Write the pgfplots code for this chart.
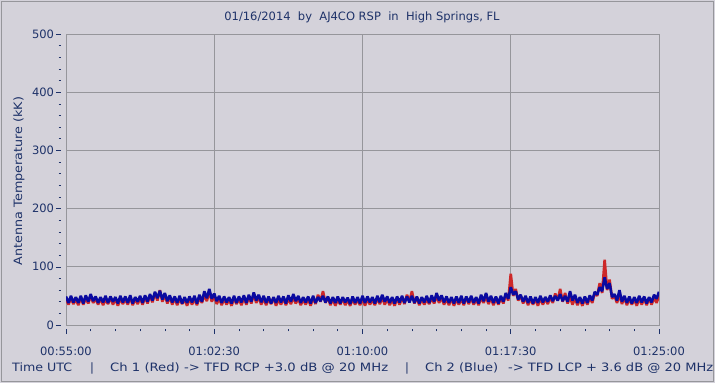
\documentclass[border=0pt]{standalone}
\usepackage{pgfplots}
\usepackage{pgfplotstable}
\usepackage{graphicx}
\pgfplotsset{compat=1.18}
\usepackage{fontspec}
\setmainfont{DejaVu Sans}
\definecolor{bgc}{RGB}{212,210,218}
\definecolor{txt}{RGB}{30,50,105}
\definecolor{grd}{RGB}{150,150,155}
\definecolor{redc}{RGB}{205,40,40}
\definecolor{bluec}{RGB}{10,10,160}
\pgfplotstableread{
x r b
0 45 49
1 35 38
2 46 50
3 36 39
4 44 48
5 34 38
6 47 50
7 35 37
8 46 51
9 37 40
10 50 53
11 38 41
12 45 49
13 35 38
14 46 48
15 34 39
16 44 50
17 36 38
18 47 49
19 35 40
20 45 48
21 33 37
22 46 50
23 36 39
24 44 49
25 35 38
26 47 51
27 34 37
28 45 48
29 36 40
30 46 50
31 35 38
32 48 51
33 37 40
34 50 53
35 39 42
36 55 57
37 42 46
38 60 59
39 40 44
40 52 55
41 37 41
42 48 51
43 35 39
44 46 49
45 34 38
46 45 50
47 36 37
48 44 48
49 33 38
50 46 49
51 35 39
52 45 50
53 34 37
54 47 52
55 38 40
56 52 58
57 41 46
58 58 62
59 40 45
60 50 54
61 36 41
62 46 50
63 34 38
64 45 49
65 35 39
66 44 48
67 33 37
68 46 50
69 36 38
70 45 49
71 34 39
72 47 51
73 35 38
74 48 52
75 37 40
76 53 56
77 38 42
78 49 52
79 35 39
80 46 50
81 34 38
82 45 49
83 36 37
84 47 48
85 33 38
86 44 50
87 35 39
88 46 49
89 34 37
90 45 51
91 36 40
92 47 53
93 37 41
94 46 50
95 34 38
96 44 48
97 35 39
98 45 49
99 33 37
100 47 50
101 36 38
102 52 48
103 40 41
104 58 50
105 38 39
106 48 49
107 34 37
108 45 48
109 33 38
110 44 49
111 35 37
112 46 48
113 34 39
114 43 47
115 33 36
116 45 49
117 35 38
118 44 48
119 34 37
120 46 50
121 33 38
122 45 49
123 35 39
124 44 48
125 34 37
126 46 50
127 36 39
128 47 52
129 35 40
130 45 49
131 34 38
132 44 48
133 33 37
134 46 49
135 35 39
136 47 50
137 36 38
138 52 49
139 40 39
140 58 50
141 37 38
142 47 49
143 34 37
144 45 48
145 35 39
146 44 50
147 36 38
148 46 51
149 37 40
150 50 55
151 38 42
152 47 51
153 35 39
154 45 49
155 34 38
156 46 48
157 33 37
158 44 49
159 35 38
160 45 50
161 34 37
162 47 49
163 36 39
164 46 50
165 35 38
166 44 48
167 34 37
168 47 52
169 38 41
170 49 55
171 36 40
172 46 50
173 34 38
174 45 49
175 35 37
176 46 50
177 37 40
178 52 55
179 42 45
180 88 65
181 50 52
182 62 58
183 42 44
184 50 52
185 37 40
186 47 50
187 34 38
188 45 49
189 35 37
190 44 48
191 33 38
192 46 50
193 35 39
194 45 48
195 36 40
196 48 51
197 38 41
198 54 50
199 42 42
200 62 53
201 40 41
202 55 50
203 37 40
204 48 58
205 35 42
206 46 52
207 34 38
208 44 48
209 33 37
210 45 49
211 35 38
212 47 51
213 38 42
214 55 57
215 50 52
216 72 65
217 55 58
218 112 82
219 60 62
220 78 72
221 45 48
222 50 53
223 38 42
224 52 60
225 36 40
226 47 50
227 34 38
228 45 49
229 35 37
230 44 48
231 33 38
232 46 50
233 35 39
234 45 49
235 34 37
236 46 48
237 35 39
238 47 52
239 38 45
240 50 57
}\data
\begin{document}
\fontsize{11.5}{13}\selectfont
\begin{tikzpicture}[x=1pt,y=1pt]
\fill[bgc] (0,0) rectangle (715,383);
\draw[grd, line width=1pt] (1.5,1.5) rectangle (713.5,381.5);
\begin{axis}[
  at={(66pt,58pt)}, anchor=south west,
  width=593pt, height=291pt, scale only axis,
  xmin=0, xmax=240, ymin=0, ymax=500,
  xtick={0,60,120,180,240},
  xticklabels={00:55:00,01:02:30,01:10:00,01:17:30,01:25:00},
  minor x tick num=5,
  ytick={0,100,200,300,400,500},
  minor y tick num=4,
  tick pos=left,
  grid=major,
  major grid style={grd, line width=0.8pt},
  axis line style={grd, line width=0.8pt},
  tick align=outside,
  major tick length=5pt, minor tick length=2.5pt,
  every x tick/.append style={yshift=-4pt, txt, line width=0.6pt},
  every y tick/.append style={xshift=-5pt, txt, line width=0.6pt},
  ticklabel style={txt, font=\fontsize{11.5}{13}\selectfont},
  /pgf/number format/assume math mode=true,
  xticklabel style={yshift=-13pt},
  yticklabel style={xshift=-3pt},
  clip=true,
]
\addplot[redc, line width=2.6pt, line join=bevel] table[x=x,y=r]{\data};
\addplot[bluec, line width=2.6pt, line join=bevel] table[x=x,y=b]{\data};
\end{axis}
\node[txt, anchor=base] at (362,362) {01/16/2014\ \ by\ \ AJ4CO RSP\ \ in\ \ High Springs, FL};
\node[txt, rotate=90, inner sep=0pt] at (19,202) {\resizebox{168pt}{\height}{Antenna Temperature (kK)}};
\node[txt, anchor=base west, inner sep=0pt] at (12,12) {\resizebox{60pt}{\height}{Time UTC}};
\node[txt, anchor=base, inner sep=0pt] at (92,12) {|};
\node[txt, anchor=base west, inner sep=0pt] at (110,12) {\resizebox{278pt}{\height}{Ch 1 (Red) -> TFD RCP +3.0 dB @ 20 MHz}};
\node[txt, anchor=base, inner sep=0pt] at (407,12) {|};
\node[txt, anchor=base west, inner sep=0pt] at (425,12) {\resizebox{73pt}{\height}{Ch 2 (Blue)}};
\node[txt, anchor=base west, inner sep=0pt] at (508,12) {\resizebox{205pt}{\height}{-> TFD LCP + 3.6 dB @ 20 MHz}};
\end{tikzpicture}
\end{document}
